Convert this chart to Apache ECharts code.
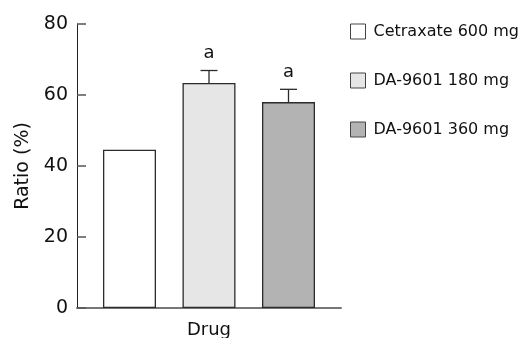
<!DOCTYPE html>
<html>
<head>
<meta charset="utf-8">
<script src="https://cdn.jsdelivr.net/npm/echarts@6/dist/echarts.min.js"></script>
<style>
  html, body { margin: 0; padding: 0; background: #fff; }
  #chart { width: 523px; height: 338px; }
</style>
</head>
<body>
<div id="chart"></div>
<script>
// Gastric lesion ratio by treatment group (mean ± SE)
const category = 'Drug';
const groupNames = ['Cetraxate 600 mg', 'DA-9601 180 mg', 'DA-9601 360 mg'];
const ratioValues = [44.6, 63.4, 58.0];
const ratioErrors = [null, 3.5, 3.6];
const significance = [null, 'a', 'a'];
const yTicks = [0, 20, 40, 60, 80];

const fills = ['#ffffff', '#e6e6e6', '#b3b3b3'];
const edge = '#2b2b2b';
const FONT = 'DejaVu Sans';
const BAR_WIDTH = 53;
const BAR_GAP = '50%';

const barSeries = groupNames.map((name, i) => ({
  name: name,
  type: 'bar',
  barWidth: BAR_WIDTH,
  barGap: BAR_GAP,
  data: [ratioValues[i]],
  itemStyle: { color: fills[i], borderColor: edge, borderWidth: 1.3 },
  emphasis: { disabled: true },
  silent: true,
  z: 2
}));

// error bar rows: [category, mean, error, series slot, mark]
const errorRows = [];
ratioValues.forEach((v, i) => {
  if (ratioErrors[i] != null) {
    errorRows.push([category, v, ratioErrors[i], i, significance[i] || '']);
  }
});

const errorSeries = {
  type: 'custom',
  silent: true,
  z: 5,
  encode: { x: 0, y: 1 },
  data: errorRows,
  renderItem: function (params, api) {
    const layout = api.barLayout({ barWidth: BAR_WIDTH, barGap: BAR_GAP, count: groupNames.length });
    const slot = api.value(3);
    const center = api.coord([api.value(0), 0]);
    const x = center[0] + layout[slot].offsetCenter;
    const yMean = api.coord([api.value(0), api.value(1)])[1];
    const yTop = api.coord([api.value(0), api.value(1) + api.value(2)])[1];
    const cap = 8.5;
    const stroke = { stroke: edge, lineWidth: 1.3 };
    return {
      type: 'group',
      children: [
        { type: 'line', shape: { x1: x, y1: yMean, x2: x, y2: yTop }, style: stroke },
        { type: 'line', shape: { x1: x - cap, y1: yTop, x2: x + cap, y2: yTop }, style: stroke },
        {
          type: 'text',
          x: x,
          y: yTop - 8,
          style: {
            text: api.value(4),
            fill: '#111',
            font: '18px "' + FONT + '"',
            align: 'center',
            verticalAlign: 'bottom'
          }
        }
      ]
    };
  }
};

const chart = echarts.init(document.getElementById('chart'), null, { renderer: 'canvas' });
chart.setOption({
  backgroundColor: '#ffffff',
  animation: false,
  textStyle: { fontFamily: FONT },
  grid: {
    left: 77, right: 182, top: 24, bottom: 30,
    containLabel: false,
    outerBoundsMode: 'none'
  },
  legend: {
    orient: 'vertical',
    left: 345,
    top: 18,
    itemWidth: 15,
    itemHeight: 15,
    itemGap: 32,
    icon: 'rect',
    selectedMode: false,
    data: groupNames,
    itemStyle: { borderWidth: 1, borderColor: '#444' },
    textStyle: { fontFamily: FONT, fontSize: 16, color: '#111', lineHeight: 17, padding: [0, 0, 0, 3] }
  },
  xAxis: {
    type: 'category',
    data: [category],
    name: category,
    nameLocation: 'middle',
    nameGap: 13,
    nameTextStyle: { fontFamily: FONT, fontSize: 18, color: '#111', verticalAlign: 'top' },
    axisLine: { show: true, lineStyle: { color: '#777', width: 2 } },
    axisTick: { show: false },
    axisLabel: { show: false },
    splitLine: { show: false }
  },
  yAxis: {
    type: 'value',
    min: yTicks[0],
    max: yTicks[yTicks.length - 1],
    interval: yTicks[1] - yTicks[0],
    name: 'Ratio (%)',
    nameLocation: 'middle',
    nameGap: 44,
    nameRotate: 90,
    nameTextStyle: { fontFamily: FONT, fontSize: 19, color: '#111' },
    axisLine: { show: true, lineStyle: { color: '#222', width: 1 } },
    axisTick: { show: true, inside: true, length: 9, lineStyle: { color: '#555', width: 1.5 } },
    axisLabel: { fontFamily: FONT, fontSize: 19, color: '#111', margin: 9 },
    splitLine: { show: false }
  },
  series: [...barSeries, errorSeries]
});
</script>
</body>
</html>
